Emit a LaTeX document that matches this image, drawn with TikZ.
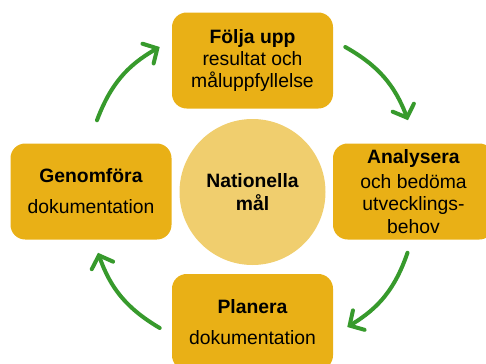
\documentclass[tikz,border=0pt]{standalone}
\usepackage{fontspec}
\setmainfont{Liberation Sans}
\usepackage{xcolor}
\usetikzlibrary{arrows.meta}
\definecolor{boxcol}{HTML}{E9B016}
\definecolor{goalcol}{HTML}{F0CE6E}
\definecolor{arrcol}{HTML}{379A2C}

\begin{document}
\begin{tikzpicture}[x=0.75pt,y=0.75pt,
  stage/.style={fill=boxcol,rounded corners=11pt,minimum width=120.75pt,
                minimum height=72pt,align=center,inner sep=2pt,
                font=\fontsize{14.5}{16.8}\selectfont},
  goal/.style={circle,fill=goalcol,minimum size=109.5pt,align=center,
               font=\fontsize{14.5}{16.8}\selectfont\bfseries},
  cyc/.style={draw=arrcol,line width=3pt,line cap=round,
              -{Straight Barb[length=8pt,width=17pt,line cap=round]},bend left=20},
]
\useasboundingbox (0,0) rectangle (486,-364);
% ---------- centre ----------
\node[goal] (mal) at (252.5,-192) {Nationella\\mål};

% ---------- four stages ----------
\node[stage] (folj) at (252.5,-60.5) {\textbf{Följa upp}\\resultat och\\måluppfyllelse};
\node[stage] (anal) at (413.5,-191.5) {\textbf{Analysera}\\[1.5pt]och bedöma\\utvecklings-\\behov};
\node[stage] (plan) at (252.5,-322) {\textbf{Planera}\\[6.5pt]dokumentation};
\node[stage] (genf) at (91,-191.5) {\textbf{Genomföra}\\[6.5pt]dokumentation};

% ---------- cycle arrows ----------
\draw[cyc] ([shift={(6,23)}]genf.north) to ([shift={(-12,13.5)}]folj.west);
\draw[cyc] ([shift={(12,13.5)}]folj.east) to ([shift={(-5.5,23)}]anal.north);
\draw[cyc] ([shift={(-6,-13)}]anal.south) to ([shift={(14,-5)}]plan.east);
\draw[cyc] ([shift={(-12,-6)}]plan.west) to ([shift={(7,-13)}]genf.south);
\end{tikzpicture}
\end{document}
